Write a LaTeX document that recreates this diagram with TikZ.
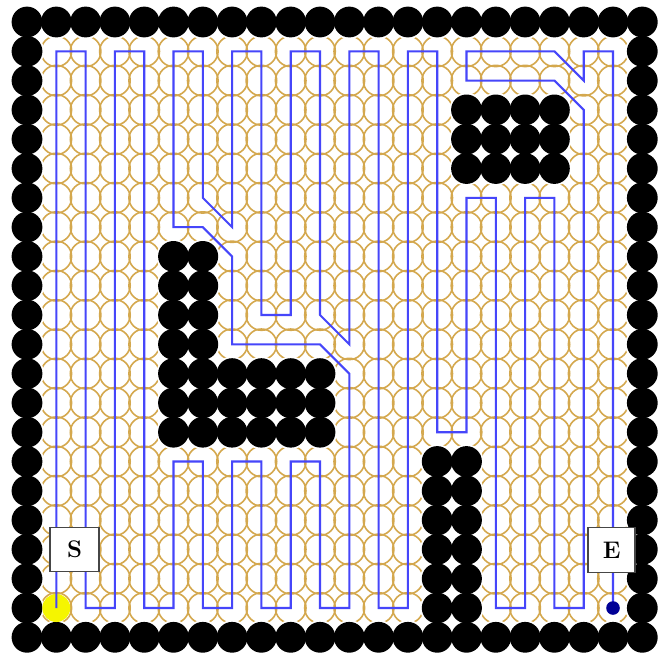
\documentclass[tikz,border=0pt]{standalone}
\definecolor{goldc}{RGB}{212,168,78}
\definecolor{pathc}{RGB}{70,70,250}
\definecolor{navyc}{RGB}{0,0,150}
\definecolor{boxc}{RGB}{70,70,70}
\definecolor{startc}{RGB}{245,245,0}
\tikzset{
  goldring/.style={draw=goldc, line width=1.6pt},
  halo/.style={fill=white},
  wall/.style={fill=black},
  route/.style={draw=pathc, line width=2.1pt, line join=miter},
  markbox/.style={draw=boxc, fill=white, line width=1.5pt, inner sep=0pt,
    minimum width=47pt, minimum height=45pt, font=\fontsize{24}{26}\selectfont\bfseries}
}
\begin{document}
\begin{tikzpicture}[x=1pt,y=-1pt]
\useasboundingbox (0,0) rectangle (657,657);
\fill[white] (0,0) rectangle (657,657);
\foreach \i in {0,...,21}{\foreach \j in {0,...,21}{
  \coordinate (c\i-\j) at ({27+29.3*\i},{22+29.3*\j});
}}
% gold rings on free cells
\foreach \i in {0,...,21}{\foreach \j in {0,...,21}{
  \pgfmathtruncatemacro\blk{(\i==0)||(\i==21)||(\j==0)||(\j==21)||((\i>=5)&&(\i<=6)&&(\j>=8)&&(\j<=14))||((\i>=7)&&(\i<=10)&&(\j>=12)&&(\j<=14))||((\i>=15)&&(\i<=18)&&(\j>=3)&&(\j<=5))||((\i>=14)&&(\i<=15)&&(\j>=15)&&(\j<=20))}
  \ifnum\blk=0
    \draw[goldring] (c\i-\j) circle (15.3);
  \fi
}}
% halos and walls
\foreach \i in {0,...,21}{\foreach \j in {0,...,21}{
  \pgfmathtruncatemacro\blk{(\i==0)||(\i==21)||(\j==0)||(\j==21)||((\i>=5)&&(\i<=6)&&(\j>=8)&&(\j<=14))||((\i>=7)&&(\i<=10)&&(\j>=12)&&(\j<=14))||((\i>=15)&&(\i<=18)&&(\j>=3)&&(\j<=5))||((\i>=14)&&(\i<=15)&&(\j>=15)&&(\j<=20))}
  \ifnum\blk=1
    \fill[halo] (c\i-\j) circle (17.2);
  \fi
}}
\foreach \i in {0,...,21}{\foreach \j in {0,...,21}{
  \pgfmathtruncatemacro\blk{(\i==0)||(\i==21)||(\j==0)||(\j==21)||((\i>=5)&&(\i<=6)&&(\j>=8)&&(\j<=14))||((\i>=7)&&(\i<=10)&&(\j>=12)&&(\j<=14))||((\i>=15)&&(\i<=18)&&(\j>=3)&&(\j<=5))||((\i>=14)&&(\i<=15)&&(\j>=15)&&(\j<=20))}
  \ifnum\blk=1
    \fill[wall] (c\i-\j) circle (15.4);
  \fi
}}
% start marker
\fill[startc] (c1-20) circle (14);
% route
\draw[route] (c1-20) -- (c1-1) -- (c2-1) -- (c2-20) -- (c3-20) -- (c3-1) -- (c4-1) -- (c4-20)
  -- (c5-20) -- (c5-15) -- (c6-15) -- (c6-20) -- (c7-20) -- (c7-15) -- (c8-15) -- (c8-20)
  -- (c9-20) -- (c9-15) -- (c10-15) -- (c10-20) -- (c11-20) -- (c11-12) -- (c10-11) -- (c7-11)
  -- (c7-8) -- (c6-7) -- (c5-7) -- (c5-1) -- (c6-1) -- (c6-6) -- (c7-7) -- (c7-1) -- (c8-1)
  -- (c8-10) -- (c9-10) -- (c9-1) -- (c10-1) -- (c10-10) -- (c11-11) -- (c11-1) -- (c12-1)
  -- (c12-20) -- (c13-20) -- (c13-1) -- (c14-1) -- (c14-14) -- (c15-14) -- (c15-6) -- (c16-6)
  -- (c16-20) -- (c17-20) -- (c17-6) -- (c18-6) -- (c18-20) -- (c19-20) -- (c19-3) -- (c18-2)
  -- (c15-2) -- (c15-1) -- (c18-1) -- (c19-2) -- (c19-1) -- (c20-1) -- (c20-20);
% end marker
\fill[navyc] (c20-20) circle (6.8);
% labels
\node[markbox, minimum width=49pt, minimum height=44pt] (S) at (74.5,549.5) {S};
\node[markbox] (E) at (611.7,550) {E};
\end{tikzpicture}
\end{document}
